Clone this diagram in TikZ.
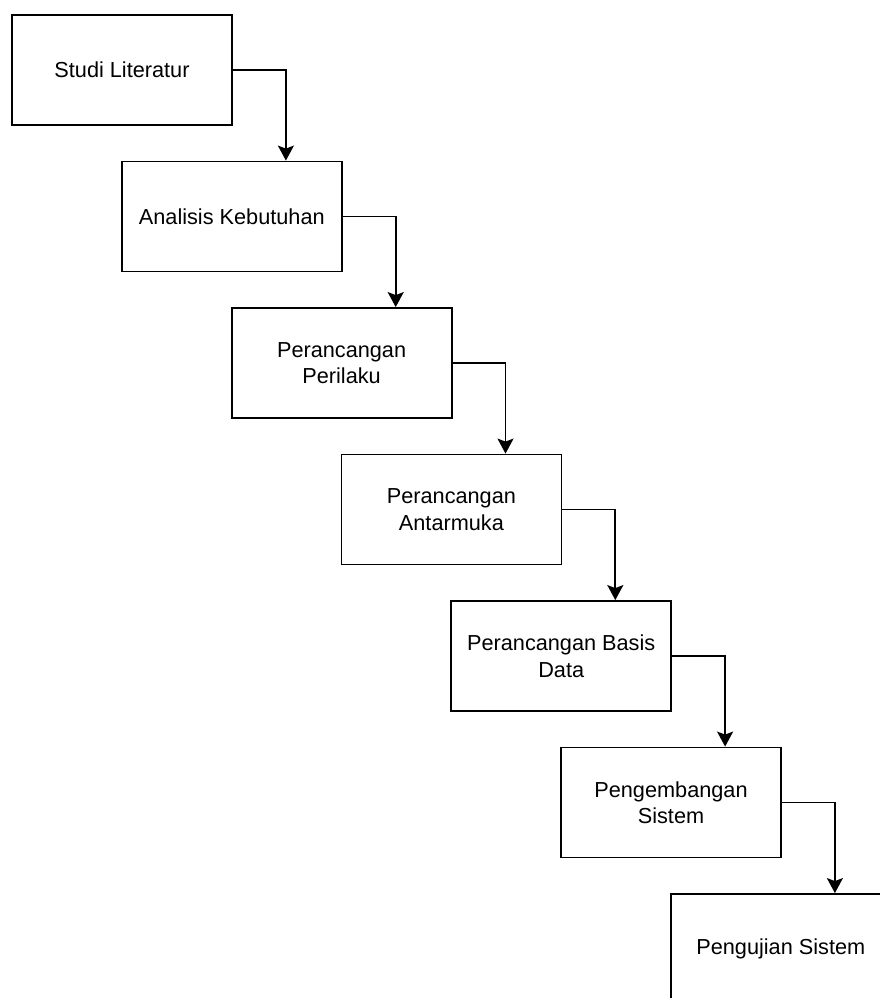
\documentclass[tikz,border=0pt]{standalone}
\usepackage{fontspec}
\setmainfont{Liberation Sans}
\usetikzlibrary{arrows.meta}
\begin{document}
\begin{tikzpicture}[x=1pt,y=-1pt,
  stagebox/.style={draw=black,line width=1.8pt,fill=white,rectangle,
    minimum width=220pt,minimum height=110pt,inner sep=0pt,align=center,
    font=\fontsize{21.7}{26.5}\selectfont},
  flow/.style={draw=black,line width=1.8pt,
    -{Stealth[length=15pt,width=16pt,inset=3pt]}}]
\useasboundingbox (0,0) rectangle (880,998);
\clip (0,0) rectangle (880,998);
\fill[white] (0,0) rectangle (880,998);
% waterfall stages, each shifted right and down from the previous one
\node[stagebox] (s1) at (122,70)      {Studi Literatur};
\node[stagebox] (s2) at (231.8,216.5) {Analisis Kebutuhan};
\node[stagebox] (s3) at (341.6,363)   {Perancangan\\Perilaku};
\node[stagebox] (s4) at (451.4,509.5) {Perancangan\\Antarmuka};
\node[stagebox] (s5) at (561.2,656)   {Perancangan Basis\\Data};
\node[stagebox] (s6) at (671,802.5)   {Pengembangan\\Sistem};
\node[stagebox] (s7) at (780.8,949)   {Pengujian Sistem};
% elbow connectors into the top edge, three quarters across
\draw[flow] (s1.east) -| ([xshift=165pt]s2.north west);
\draw[flow] (s2.east) -| ([xshift=165pt]s3.north west);
\draw[flow] (s3.east) -| ([xshift=165pt]s4.north west);
\draw[flow] (s4.east) -| ([xshift=165pt]s5.north west);
\draw[flow] (s5.east) -| ([xshift=165pt]s6.north west);
\draw[flow] (s6.east) -| ([xshift=165pt]s7.north west);
\end{tikzpicture}
\end{document}
